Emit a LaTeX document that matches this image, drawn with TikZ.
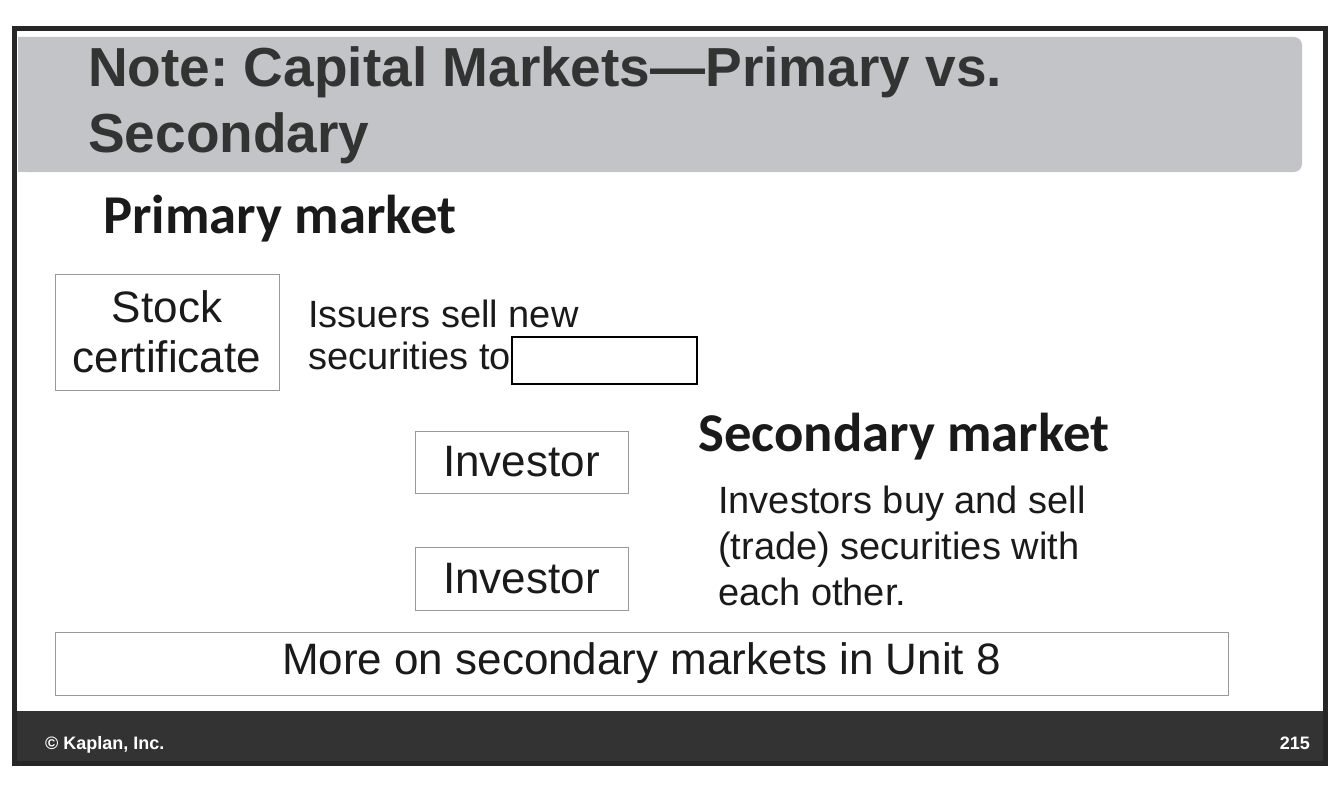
\documentclass[tikz,border=0pt]{standalone}
\usepackage{fontspec}
\setmainfont{Liberation Sans}
\newfontfamily\headfont{Carlito}
\usepackage{xcolor}
\usetikzlibrary{positioning}
\definecolor{titlegray}{HTML}{C3C4C8}
\definecolor{darkbar}{HTML}{333333}
\definecolor{inkgray}{HTML}{1A1A1A}
\frenchspacing

\begin{document}
\begin{tikzpicture}[x=1pt, y=-1pt,
    box/.style={draw=gray!80, line width=1pt, inner sep=0pt, text=inkgray},
    bodytext/.style={inner sep=0pt, anchor=base west, align=left, text=inkgray, font=\fontsize{38}{46}\selectfont},
    heading/.style={inner sep=0pt, anchor=base west, text=inkgray, font=\headfont\bfseries\fontsize{54.7}{60}\selectfont}]
    \useasboundingbox (0,0) rectangle (1334,792);
    
    % Slide frame, title bar and footer
    \fill[white] (12,26) rectangle (1328,766);
    \fill[titlegray, rounded corners=8pt] (18,37) -- (1302,37) -- (1302,172) -- (18,172) [sharp corners] -- cycle;
    \fill[titlegray] (18,37) rectangle (40,172);
    \fill[darkbar] (12,711) rectangle (1328,766);
    \draw[black!85, line width=5pt] (14.5,28.5) rectangle (1325.5,763.5);
    
    % Title
    \node[inner sep=0pt, anchor=base west, text=darkbar, font=\bfseries\fontsize{55}{65}\selectfont] (title1) at (88,87) {Note: Capital Markets---Primary vs.};
    \node[inner sep=0pt, anchor=base west, text=darkbar, font=\bfseries\fontsize{55}{65}\selectfont] (title2) at (88,152) {Secondary};
    
    % Primary market
    \node[heading] (primary) at (103,233) {Primary market};
    \node[box, minimum width=224pt, minimum height=116pt, align=center, font=\fontsize{44}{50}\selectfont] (stock) at (167,332) {Stock\\certificate};
    \node[bodytext] (issuers1) at (308,327) {Issuers sell new};
    \node[bodytext] (issuers2) at (308,369) {securities to};
    \node[draw=black, line width=1.2pt, minimum width=185pt, minimum height=47pt, inner sep=0pt] (blank) at (604.5,360.5) {};
    
    % Investors
    \node[box, minimum width=213pt, minimum height=62pt, font=\fontsize{44}{50}\selectfont] (inv1) at (521.5,462) {Investor};
    \node[box, minimum width=213pt, minimum height=63pt, font=\fontsize{44}{50}\selectfont] (inv2) at (521.5,578.5) {Investor};
    
    % Secondary market
    \node[heading] (secondary) at (698,451) {Secondary market};
    \node[bodytext] (trade1) at (718,513) {Investors buy and sell};
    \node[bodytext] (trade2) at (718,559) {(trade) securities with};
    \node[bodytext] (trade3) at (718,605) {each other.};
    
    % Note box
    \node[box, minimum width=1173pt, minimum height=63pt, font=\fontsize{44}{50}\selectfont] (more) at (641.5,663.5) {More on secondary markets in Unit 8};
    
    % Footer
    \node[inner sep=0pt, anchor=base west, text=white, font=\bfseries\fontsize{18}{20}\selectfont] (copy) at (45,749) {\textcopyright{} Kaplan, Inc.};
    \node[inner sep=0pt, anchor=base east, text=white, font=\bfseries\fontsize{18}{20}\selectfont] (page) at (1310,749) {215};
\end{tikzpicture}
\end{document}
